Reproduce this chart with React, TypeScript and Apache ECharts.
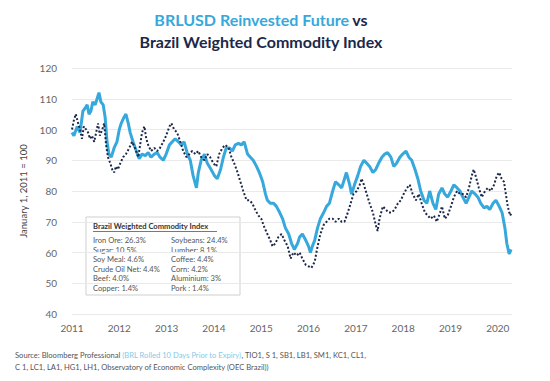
import React, { useEffect, useRef } from "react";
import * as echarts from "echarts";

// Decimal years for each sample of the two series
const brlDates = [
  2011.0, 2011.04, 2011.11, 2011.17, 2011.23, 2011.28, 2011.32, 2011.36, 2011.4, 2011.44,
  2011.49, 2011.53, 2011.57, 2011.61, 2011.66, 2011.7, 2011.74, 2011.78, 2011.83, 2011.89,
  2011.95, 2012.0, 2012.04, 2012.1, 2012.14, 2012.19, 2012.23, 2012.29, 2012.36, 2012.42,
  2012.48, 2012.55, 2012.61, 2012.67, 2012.74, 2012.8, 2012.86, 2012.93, 2012.99, 2013.06,
  2013.12, 2013.18, 2013.25, 2013.31, 2013.37, 2013.44, 2013.5, 2013.56, 2013.63, 2013.67,
  2013.73, 2013.8, 2013.86, 2013.94, 2014.01, 2014.07, 2014.14, 2014.2, 2014.26, 2014.33,
  2014.39, 2014.45, 2014.52, 2014.58, 2014.64, 2014.71, 2014.77, 2014.83, 2014.9, 2014.96,
  2015.03, 2015.09, 2015.13, 2015.19, 2015.26, 2015.32, 2015.39, 2015.45, 2015.51, 2015.58,
  2015.64, 2015.7, 2015.77, 2015.81, 2015.87, 2015.94, 2016.0, 2016.04, 2016.08, 2016.13,
  2016.19, 2016.25, 2016.32, 2016.38, 2016.44, 2016.51, 2016.57, 2016.64, 2016.7, 2016.76,
  2016.8, 2016.87, 2016.91, 2016.97, 2017.04, 2017.1, 2017.17, 2017.23, 2017.29, 2017.36,
  2017.42, 2017.48, 2017.55, 2017.61, 2017.67, 2017.74, 2017.8, 2017.86, 2017.93, 2017.99,
  2018.06, 2018.12, 2018.18, 2018.25, 2018.31, 2018.37, 2018.44, 2018.5, 2018.56, 2018.63,
  2018.69, 2018.75, 2018.82, 2018.88, 2018.94, 2019.01, 2019.07, 2019.14, 2019.2, 2019.26,
  2019.33, 2019.39, 2019.45, 2019.52, 2019.58, 2019.64, 2019.71, 2019.77, 2019.83, 2019.9,
  2019.96, 2020.03, 2020.09, 2020.15, 2020.19, 2020.24, 2020.28,
];
const brlValues = [
  99, 98, 101, 99, 106, 107, 108, 105, 106, 109,
  108, 110, 112, 109, 108, 104, 96, 92, 91, 94,
  96, 100, 102, 104, 105, 102, 99, 96, 93, 90.5,
  92, 91.5, 92.5, 91, 92, 92.5, 91, 90, 92, 95,
  96, 97, 96, 95, 96, 92, 90, 85, 81, 86,
  90, 92, 89, 87, 85, 84, 87, 91, 94, 94,
  93, 95, 95.5, 95, 96, 92, 91, 90, 88, 86,
  83, 79, 77, 76, 76, 75, 73, 71, 68, 66,
  63, 61, 63, 65, 66, 64, 62, 60, 62, 64,
  68, 71, 73, 75, 76, 80, 83, 82, 81, 84,
  86, 82, 79, 82, 85, 88, 90, 89, 88, 86,
  87, 89, 91, 92, 92.5, 91, 88, 89, 91, 92,
  93, 91, 90, 87, 84, 80, 77, 76, 80, 76,
  74, 79, 81, 79, 78, 80, 82, 81, 80, 78,
  76, 78, 80, 79, 78, 76, 74.5, 75, 74, 76,
  77, 75, 73, 68, 63, 59.5, 61,
];

const cmdDates = [
  2011.0, 2011.04, 2011.08, 2011.13, 2011.17, 2011.21, 2011.25, 2011.3, 2011.34, 2011.38,
  2011.42, 2011.47, 2011.51, 2011.55, 2011.59, 2011.64, 2011.68, 2011.72, 2011.76, 2011.81,
  2011.85, 2011.89, 2011.93, 2011.97, 2012.02, 2012.08, 2012.14, 2012.21, 2012.27, 2012.33,
  2012.4, 2012.44, 2012.48, 2012.53, 2012.57, 2012.61, 2012.67, 2012.74, 2012.8, 2012.86,
  2012.93, 2012.99, 2013.06, 2013.1, 2013.16, 2013.22, 2013.29, 2013.35, 2013.42, 2013.48,
  2013.54, 2013.61, 2013.67, 2013.73, 2013.8, 2013.86, 2013.92, 2013.99, 2014.05, 2014.11,
  2014.18, 2014.24, 2014.31, 2014.37, 2014.43, 2014.5, 2014.56, 2014.62, 2014.69, 2014.75,
  2014.81, 2014.87, 2014.94, 2015.0, 2015.07, 2015.13, 2015.19, 2015.24, 2015.3, 2015.36,
  2015.43, 2015.49, 2015.56, 2015.62, 2015.68, 2015.75, 2015.81, 2015.87, 2015.94, 2016.0,
  2016.06, 2016.13, 2016.19, 2016.25, 2016.32, 2016.38, 2016.44, 2016.51, 2016.57, 2016.64,
  2016.7, 2016.76, 2016.83, 2016.89, 2016.95, 2017.02, 2017.08, 2017.12, 2017.17, 2017.23,
  2017.29, 2017.36, 2017.42, 2017.46, 2017.5, 2017.57, 2017.63, 2017.69, 2017.76, 2017.82,
  2017.89, 2017.95, 2018.01, 2018.08, 2018.14, 2018.2, 2018.27, 2018.33, 2018.39, 2018.46,
  2018.52, 2018.58, 2018.65, 2018.71, 2018.78, 2018.82, 2018.88, 2018.94, 2019.01, 2019.07,
  2019.14, 2019.2, 2019.26, 2019.33, 2019.39, 2019.45, 2019.49, 2019.53, 2019.6, 2019.66,
  2019.73, 2019.79, 2019.85, 2019.92, 2019.98, 2020.03, 2020.08, 2020.13, 2020.17, 2020.21,
  2020.26, 2020.3,
];
const cmdValues = [
  100, 103, 105, 102, 100, 97, 101, 100, 99, 97,
  98, 96, 99, 102, 98, 100, 102, 95, 91, 89,
  87, 86, 88, 87, 89, 91, 92, 94, 96, 94,
  91, 95, 99, 101, 97, 95, 93, 94, 93, 94,
  96, 98, 101, 102, 100, 99, 96, 93, 91, 92,
  93, 92, 93, 91, 90, 92, 91, 89, 88, 92,
  94, 95, 94, 91, 89, 86, 83, 80, 77, 77,
  76, 74, 72, 71, 68, 66, 64, 62, 63, 65,
  66, 64, 62, 58, 60, 59, 60, 58, 56, 55.5,
  55, 57, 62, 66, 69, 70, 71, 71, 70, 71,
  70, 70, 73, 76, 79, 80, 82, 84, 82, 79,
  76, 73, 69, 67, 71, 75, 74, 73, 73, 74,
  76, 77, 79, 81, 82, 79, 77, 79, 76, 73,
  72, 71, 72, 70, 73, 75, 71, 72, 75, 78,
  80, 79, 79, 78, 81, 85, 87, 85, 81, 78,
  80, 81, 80, 82, 85, 86, 84, 83, 79, 75,
  72, 73,
];

const yearTicks = [2011, 2012, 2013, 2014, 2015, 2016, 2017, 2018, 2019, 2020];

const insetTitle = "Brazil Weighted Commodity Index";
const weightsLeft = [
  "Iron Ore: 26.3%",
  "Sugar: 10.5%",
  "Soy Meal: 4.6%",
  "Crude Oil Net: 4.4%",
  "Beef: 4.0%",
  "Copper: 1.4%",
];
const weightsRight = [
  "Soybeans: 24.4%",
  "Lumber: 8.1%",
  "Coffee: 4.4%",
  "Corn: 4.2%",
  "Aluminium: 3%",
  "Pork : 1.4%",
];

const titleBlue = "BRLUSD Reinvested Future";
const titleDark1 = "vs";
const titleDark2 = "Brazil Weighted Commodity Index";
const yAxisName = "January 1, 2011 = 100";
const sourceA = "Source: Bloomberg Professional ";
const sourceB = "(BRL Rolled 10 Days Prior to Expiry)";
const sourceC = ", TIO1, S 1, SB1, LB1, SM1, KC1, CL1,";
const sourceLine2 = "C 1, LC1, LA1, HG1, LH1, Observatory of Economic Complexity (OEC Brazil))";

const BLUE = "#36a8dc";
const NAVY = "#1b2849";
const FONT = "Lato, 'Open Sans', sans-serif";

export default function App() {
  const ref = useRef<HTMLDivElement>(null);

  useEffect(() => {
    if (!ref.current) return;
    const chart = echarts.init(ref.current, undefined, { renderer: "svg" });

    const brlData = brlDates.map((d, i) => [d, brlValues[i]]);
    const cmdData = cmdDates.map((d, i) => [d, cmdValues[i]]);

    const insetX = 86;
    const insetY = 217;
    const rowH = 9.6;
    const insetChildren: any[] = [
      {
        type: "rect",
        shape: { x: insetX, y: insetY, width: 154, height: 78 },
        style: { fill: "#ffffff", stroke: "#cfcfcf", lineWidth: 1 },
      },
      {
        type: "text",
        x: insetX + 7,
        y: insetY + 5,
        style: {
          text: insetTitle,
          font: `bold 7.6px ${FONT}`,
          fill: "#333333",
        },
      },
      {
        type: "line",
        shape: { x1: insetX + 7, y1: insetY + 14.5, x2: insetX + 131, y2: insetY + 14.5 },
        style: { stroke: "#555555", lineWidth: 0.8 },
      },
    ];
    weightsLeft.forEach((t, i) => {
      insetChildren.push({
        type: "text",
        x: insetX + 7,
        y: insetY + 19 + i * rowH,
        style: { text: t, font: `7.6px ${FONT}`, fill: "#555555" },
      });
    });
    weightsRight.forEach((t, i) => {
      insetChildren.push({
        type: "text",
        x: insetX + 85,
        y: insetY + 19 + i * rowH,
        style: { text: t, font: `7.6px ${FONT}`, fill: "#555555" },
      });
    });

    chart.setOption({
      animation: false,
      backgroundColor: "#ffffff",
      grid: { left: 72, right: 38, top: 68, bottom: 67 },
      xAxis: {
        type: "value",
        min: yearTicks[0],
        max: 2020.3,
        interval: 1,
        axisLine: { show: false },
        axisTick: { show: false },
        splitLine: { show: false },
        axisLabel: {
          color: "#666666",
          fontFamily: FONT,
          fontSize: 10,
          margin: 9,
          showMaxLabel: false,
          formatter: (v: number) => (yearTicks.includes(Math.round(v * 100) / 100) ? String(v) : ""),
        },
      },
      yAxis: {
        type: "value",
        min: 40,
        max: 120,
        interval: 10,
        name: yAxisName,
        nameLocation: "middle",
        nameGap: 33,
        nameTextStyle: { color: "#444444", fontFamily: FONT, fontSize: 9.5 },
        axisLine: { show: false },
        axisTick: { show: false },
        axisLabel: { color: "#666666", fontFamily: FONT, fontSize: 10, margin: 15 },
        splitLine: { lineStyle: { color: "#e9e9e9", width: 1 } },
      },
      series: [
        {
          name: "BRLUSD Reinvested Future",
          type: "line",
          data: brlData,
          showSymbol: false,
          smooth: false,
          lineStyle: { color: BLUE, width: 3 },
          z: 2,
        },
        {
          name: "Brazil Weighted Commodity Index",
          type: "line",
          data: cmdData,
          showSymbol: false,
          lineStyle: { color: NAVY, width: 2, type: [2, 2] },
          z: 3,
        },
      ],
      graphic: [
        {
          type: "text",
          x: 261,
          y: 19,
          style: {
            text: `{a|${titleBlue}} {b|${titleDark1}}`,
            align: "center",
            verticalAlign: "middle",
            rich: {
              a: { fontFamily: FONT, fontWeight: "bold", fontSize: 16, fill: BLUE },
              b: { fontFamily: FONT, fontWeight: "bold", fontSize: 16, fill: NAVY },
            },
          },
        },
        {
          type: "text",
          x: 261,
          y: 41,
          style: {
            text: titleDark2,
            align: "center",
            verticalAlign: "middle",
            font: `bold 16px ${FONT}`,
            fill: NAVY,
          },
        },
        { type: "group", children: insetChildren, z: 100 },
        {
          type: "text",
          x: 15,
          y: 351,
          style: {
            text: `{a|${sourceA}}{b|${sourceB}}{a|${sourceC}}`,
            rich: {
              a: { fontFamily: FONT, fontSize: 7.6, fill: "#555555" },
              b: { fontFamily: FONT, fontSize: 7.6, fill: "#86c9e8" },
            },
          },
        },
        {
          type: "text",
          x: 15,
          y: 363,
          style: { text: sourceLine2, font: `7.6px ${FONT}`, fill: "#555555" },
        },
      ],
    });

    return () => chart.dispose();
  }, []);

  return (
    <div
      ref={ref}
      style={{ position: "absolute", left: 0, top: 0, width: 550, height: 381 }}
    />
  );
}
